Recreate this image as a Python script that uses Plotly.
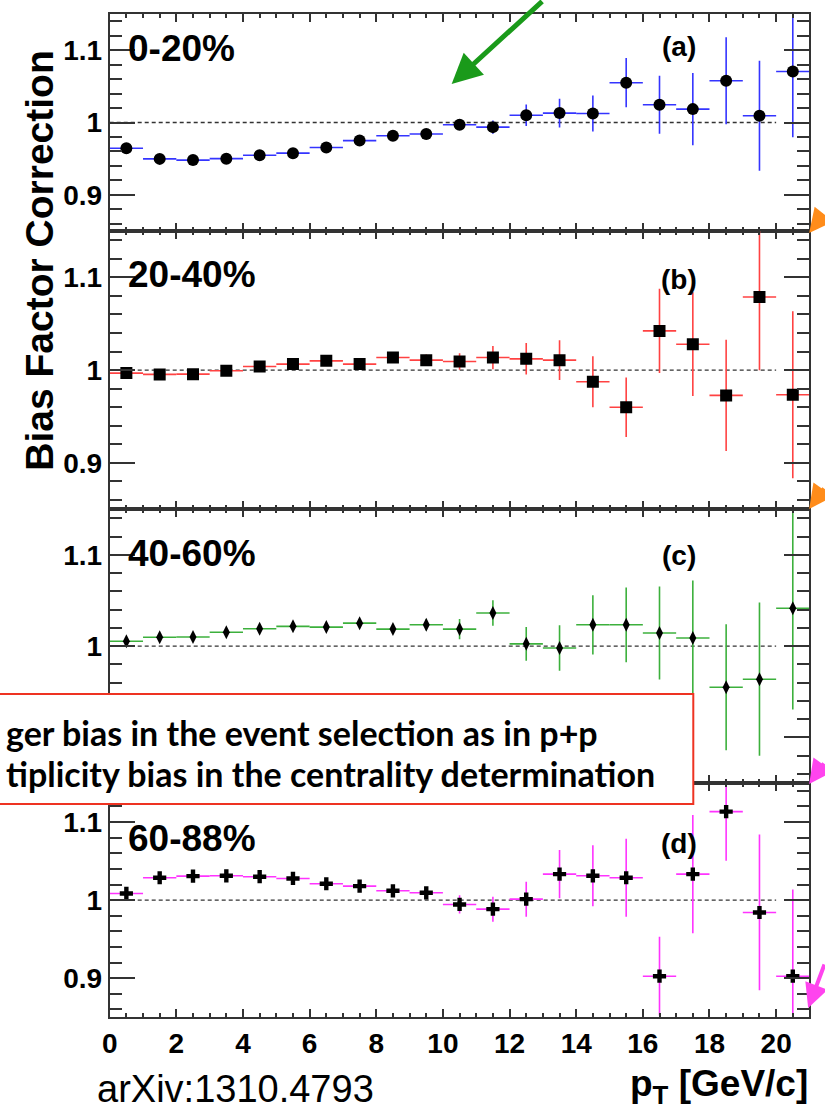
import plotly.graph_objects as go

# ---------------- data ----------------
PT = [0.5, 1.5, 2.5, 3.5, 4.5, 5.5, 6.5, 7.5, 8.5, 9.5, 10.5,
      11.5, 12.5, 13.5, 14.5, 15.5, 16.5, 17.5, 18.5, 19.5, 20.5]
BIN_HALF_WIDTH = [0.5] * 21

A_VAL = [0.9645, 0.9497, 0.948, 0.950, 0.9548, 0.9576, 0.9654, 0.975, 0.9816, 0.984, 0.9968,
         0.9936, 1.010, 1.013, 1.0125, 1.055, 1.0245, 1.0185, 1.0577, 1.0093, 1.0706]
A_ERR = [0.002, 0.002, 0.002, 0.002, 0.002, 0.002, 0.002, 0.003, 0.003, 0.004, 0.005,
         0.009, 0.015, 0.02, 0.025, 0.034, 0.04, 0.05, 0.06, 0.076, 0.091]

B_VAL = [0.9968, 0.9954, 0.9957, 0.9993, 1.004, 1.0065, 1.010, 1.0065, 1.0136, 1.0108, 1.0093,
         1.0136, 1.0122, 1.0108, 0.9875, 0.960, 1.0423, 1.028, 0.9728, 1.0788, 0.9735]
B_ERR = [0.002, 0.002, 0.002, 0.003, 0.003, 0.003, 0.004, 0.004, 0.005, 0.006, 0.009,
         0.0125, 0.017, 0.0215, 0.0274, 0.032, 0.0455, 0.056, 0.06, 0.079, 0.09]

C_VAL = [1.0054, 1.0097, 1.0101, 1.0152, 1.019, 1.0217, 1.0209, 1.0252, 1.0187, 1.0234, 1.0187,
         1.0364, 1.0025, 0.998, 1.0234, 1.0234, 1.0144, 1.009, 0.9549, 0.9638, 1.0415]
C_ERR = [0.002, 0.002, 0.002, 0.003, 0.003, 0.003, 0.004, 0.004, 0.005, 0.006, 0.011,
         0.014, 0.0186, 0.025, 0.0325, 0.041, 0.051, 0.063, 0.069, 0.084, 0.111]

D_VAL = [1.0086, 1.0287, 1.0308, 1.0312, 1.030, 1.0278, 1.021, 1.018, 1.012, 1.0094, 0.9945,
         0.9885, 1.0013, 1.0333, 1.0312, 1.0287, 0.9026, 1.0333, 1.1133, 0.9842, 0.9026]
D_ERR = [0.002, 0.002, 0.002, 0.003, 0.003, 0.003, 0.004, 0.004, 0.005, 0.006, 0.0117,
         0.016, 0.0224, 0.031, 0.039, 0.05, 0.0504, 0.0756, 0.063, 0.0997, 0.111]

CENTRALITY = ["0-20%", "20-40%", "40-60%", "60-88%"]
PANEL_TAGS = ["(a)", "(b)", "(c)", "(d)"]
REF_X = [0, 20]
REF_Y = [1, 1]
X_RANGE = [0, 21]
Y_RANGE = [0.85, 1.15]
Y_TICKS = [0.9, 1.0, 1.1]
Y_TICKTEXT = [["0.9", "1", "1.1"], ["0.9", "1", "1.1"], ["", "1", "1.1"], ["0.9", "1", "1.1"]]

# ---------------- styling ----------------
W, H = 825, 1111
SERIES = [
    (A_VAL, A_ERR, "#3434ff", "circle", 12),
    (B_VAL, B_ERR, "#ff4242", "square", 12),
    (C_VAL, C_ERR, "#3cb03c", "diamond-tall", 10),
    (D_VAL, D_ERR, "#ff33ff", "cross", 11),
]
# pixel boundaries of the pads (top, bottom)
PADS = [(14, 231), (231, 509.3), (509.3, 783), (783, 1017.3)]
X_DOM = [102.7 / W, 809.3 / W]
LABEL_Y = [1.102, 1.103, 1.102, 1.079]
TAG_Y = [1.105, 1.098, 1.099, 1.073]

FONT = "Liberation Sans"
AXC = "#333333"

fig = go.Figure()
for i, (vals, errs, col, sym, sz) in enumerate(SERIES):
    n = "" if i == 0 else str(i + 1)
    fig.add_trace(go.Scatter(
        x=REF_X, y=REF_Y, mode="lines", xaxis="x" + n, yaxis="y" + n,
        line=dict(color="#333333", width=1.4, dash="4px,3px"),
        showlegend=False, hoverinfo="skip"))
    fig.add_trace(go.Scatter(
        x=PT, y=vals, mode="markers", xaxis="x" + n, yaxis="y" + n,
        marker=dict(symbol=sym, size=sz, color="black", line=dict(width=0)),
        error_y=dict(type="data", array=errs, color=col, thickness=1.6, width=0),
        error_x=dict(type="data", array=BIN_HALF_WIDTH, color=col, thickness=1.6, width=0),
        showlegend=False))

layout = dict(
    width=W, height=H, autosize=False,
    margin=dict(l=0, r=0, t=0, b=0),
    paper_bgcolor="white", plot_bgcolor="white",
    font=dict(family=FONT, color="black"),
)

for i, (top, bot) in enumerate(PADS):
    n = "" if i == 0 else str(i + 1)
    last = (i == 3)
    layout["xaxis" + n] = dict(
        domain=X_DOM, anchor="y" + n, range=X_RANGE,
        showline=True, linecolor=AXC, linewidth=2, mirror="allticks",
        ticks="inside", ticklen=8, tickwidth=1.5, tickcolor=AXC,
        dtick=2, tick0=0, showgrid=False, zeroline=False,
        minor=dict(ticks="inside", ticklen=4, dtick=0.5, tickwidth=1.5, tickcolor=AXC, showgrid=False),
        showticklabels=last,
        tickfont=dict(family=FONT, size=28, weight="bold", color="black"),
        ticklabelstandoff=0,
    )
    layout["yaxis" + n] = dict(
        domain=[1 - bot / H, 1 - top / H], anchor="x" + n, range=Y_RANGE,
        showline=True, linecolor=AXC, linewidth=2, mirror="allticks",
        ticks="inside", ticklen=25, tickwidth=1.5, tickcolor=AXC,
        tickvals=Y_TICKS, ticktext=Y_TICKTEXT[i],
        showgrid=False, zeroline=False,
        minor=dict(ticks="inside", ticklen=12, dtick=0.02, tick0=0, tickwidth=1.5, tickcolor=AXC, showgrid=False),
        tickfont=dict(family=FONT, size=28, weight="bold", color="black"),
        ticklabelstandoff=0,
    )

fig.update_layout(**layout)

annotations = []
for i in range(4):
    n = "" if i == 0 else str(i + 1)
    annotations.append(dict(
        x=0.5, y=LABEL_Y[i], xref="x" + n, yref="y" + n, text=CENTRALITY[i],
        showarrow=False, xanchor="left", yanchor="middle",
        font=dict(family=FONT, size=37, weight="bold", color="black")))
    annotations.append(dict(
        x=17.1, y=TAG_Y[i], xref="x" + n, yref="y" + n, text=PANEL_TAGS[i],
        showarrow=False, xanchor="center", yanchor="middle",
        font=dict(family=FONT, size=28, weight="bold", color="black")))

# axis titles
annotations.append(dict(
    x=31 / W, y=1 - 261 / H, xref="paper", yref="paper", text="Bias Factor Correction",
    textangle=-90, showarrow=False, xanchor="center", yanchor="middle",
    font=dict(family=FONT, size=39, weight="bold", color="black")))
annotations.append(dict(
    x=810 / W, y=1 - 1086 / H, xref="paper", yref="paper", text="p<sub>T</sub> [GeV/c]",
    showarrow=False, xanchor="right", yanchor="middle",
    font=dict(family=FONT, size=37, weight="bold", color="black")))
annotations.append(dict(
    x=230 / W, y=1 - 1089 / H, xref="paper", yref="paper", text="arXiv:1310.4793",
    showarrow=False, xanchor="center", yanchor="middle",
    font=dict(family=FONT, size=38, color="black")))

# slide overlay text box
annotations.append(dict(
    x=-4 / W, y=1 - 732 / H, xref="paper", yref="paper",
    text="ger bias in the event selection as in p+p",
    showarrow=False, xanchor="left", yanchor="middle",
    font=dict(family="Lato", size=34, weight="bold", color="black")))
annotations.append(dict(
    x=-4 / W, y=1 - 773 / H, xref="paper", yref="paper",
    text="tiplicity bias in the centrality determination",
    showarrow=False, xanchor="left", yanchor="middle",
    font=dict(family="Lato", size=34, weight="bold", color="black")))

# slide arrows
ARROWS = [
    (448, 84, 92, -92, "#1a9a1a", 5),
    (809, 233, 30, -20, "#ff8c1a", 4),
    (809, 509, 30, -22, "#ff8c1a", 4),
    (809, 784, 30, -22, "#ff44ee", 4),
    (808, 1008, 22, -45, "#ff44ee", 4),
]
for (tx, ty, ax, ay, col, w) in ARROWS:
    annotations.append(dict(
        x=tx / W, y=1 - ty / H, xref="paper", yref="paper", text="",
        showarrow=True, ax=ax, ay=ay, arrowhead=2, arrowsize=1.2,
        arrowwidth=w, arrowcolor=col))

fig.update_layout(annotations=annotations)

fig.add_shape(type="rect", xref="paper", yref="paper",
              x0=-10 / W, x1=692 / W, y0=1 - 804 / H, y1=1 - 694 / H,
              line=dict(color="#ee3322", width=2), fillcolor="white", layer="above")

fig.write_html("out.html")
